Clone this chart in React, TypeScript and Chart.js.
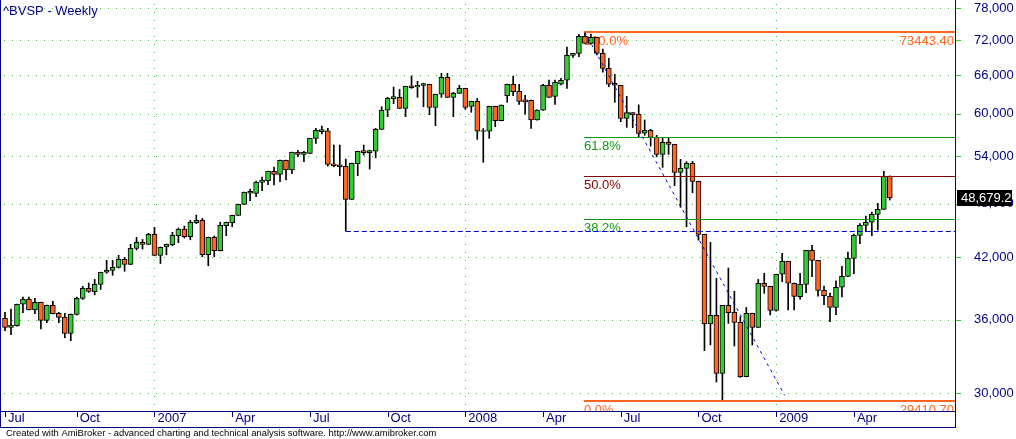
import React, { useEffect, useRef } from 'react';
import { Chart, registerables } from 'chart.js';

Chart.register(...registerables);

// ---- weekly OHLC of ^BVSP (index 0 = first week of Jul 2006) ----
const OPEN = [36100,35310,35450,37390,37870,36880,37570,35930,37290,36560,
  36220,34790,36470,37940,38900,38570,39290,40480,40680,40980,
  41790,41290,42950,43600,43390,44480,42200,43100,43340,44330,
  45060,44210,45780,46060,42280,44150,42710,45440,45780,46630,
  47920,49250,49240,50610,50810,52010,51620,53450,52200,54520,
  54250,54380,56440,57400,57490,53000,52860,52660,48500,53000,
  54750,54480,54660,57710,60520,62280,62490,60800,64320,64110,
  64350,64550,60960,62970,65670,62490,63120,63900,61110,61880,
  57420,57450,61110,58980,62750,64550,63440,62090,62040,59080,
  60520,64390,62650,64550,65200,69360,69710,72710,71460,72530,
  69710,67150,64720,64390,59310,60160,59960,57160,57590,56590,
  54250,55890,55610,51880,52390,53060,50730,44480,35600,36380,
  31500,37290,36650,35750,31240,36560,35310,39390,39090,36830,
  40280,41600,39390,38100,39290,42750,41700,38710,38130,37100,
  39000,40070,41900,44370,45480,45830,46740,47320,51400];
const HIGH = [36650,36950,37410,38060,38060,37940,37600,37320,37670,36650,
  36560,36500,38060,39090,39420,39770,40500,41700,41700,42220,
  42010,43390,44150,43920,44590,45260,43100,43420,44700,45180,
  45400,46060,46660,46280,44170,44290,45830,45860,46650,47940,
  49400,49760,50770,51270,52030,52560,53470,53470,54540,54790,
  54660,56460,57860,58200,57860,55510,55510,53610,53080,54680,
  55510,54830,57860,61050,62490,64110,63740,64250,65890,65030,
  64710,64570,62990,66330,66330,63290,64390,63920,61900,62330,
  57830,61130,61130,61330,64570,65890,64550,62810,62060,60580,
  64550,65240,65240,65500,70800,69720,73080,73443.4,73130,72550,
  70440,68840,66170,64400,62650,60170,61330,59080,57710,56870,
  56440,56590,55630,53570,53270,53320,50750,44500,43600,39870,
  37300,40910,38610,36250,37100,36580,39770,40380,39110,40290,
  42430,41620,39400,40380,42760,43280,41710,39120,38450,39620,
  41080,42570,44520,45670,46540,47010,48040,52010,51420];
const LOW = [35020,34670,35420,36620,36860,36530,35180,35720,36500,35720,
  34410,34160,36400,37840,38510,38280,38800,40380,40180,40900,
  40580,41250,42780,42880,43350,42170,41370,42280,43230,43560,
  44070,43880,45670,42070,41140,42070,42680,44330,45320,46600,
  47900,48350,48830,49570,50300,50270,50680,50920,51700,53920,
  53270,54350,55750,57060,52690,52600,51440,44850,48470,51440,
  54150,52300,53790,57690,59560,61510,60780,59560,63900,62490,
  61050,59860,58240,62490,62470,59560,63100,60650,60220,56300,
  53190,56440,58090,58950,61730,62750,61420,59920,57860,59060,
  60500,62470,61420,64430,63900,69010,69120,71440,71330,69410,
  66500,64160,61730,58830,58010,57950,56560,56870,55380,53920,
  52520,54250,50180,47560,45320,49320,43850,33320,33790,30830,
  29410.7,35660,33710,31190,31220,33790,35290,38420,36410,36750,
  39550,36860,36860,37870,38480,40030,38160,37350,35810,36430,
  38090,40050,40340,43450,44770,44330,44960,47300,48430];
const CLOSE = [35310,35510,37390,37870,36880,37570,35930,37290,36530,36200,
  34790,36470,37940,38900,38610,39290,40480,40710,40980,41790,
  41290,42950,43600,43390,44480,42220,43070,43390,44370,45060,
  44210,45830,46050,42280,44150,42710,45480,45830,46630,47920,
  49370,49500,50650,50900,52010,51620,53450,52200,54520,54250,
  54520,56440,57590,57680,52920,52740,52600,48500,53050,54660,
  54480,54750,57710,60520,62330,62590,60800,64230,64000,64390,
  64670,60960,62970,65670,62490,63120,63900,60960,61880,57450,
  57560,61110,58980,61310,64550,63380,61880,61780,59080,60560,
  64390,62490,64870,65200,69360,69710,72710,71460,72530,69710,
  67150,64550,64400,59310,60160,59810,57130,57590,56590,54250,
  55890,55610,51880,52390,53060,50730,44480,35600,36380,31500,
  37290,36620,35750,31240,36560,35310,39390,39090,36830,40280,
  41600,39390,38130,39290,42750,41700,38710,38190,37100,39000,
  40070,41900,44370,45480,45830,46740,47320,51400,48679.2];

// ---- axis ticks ----
const TICK_INDEX = [0, 12, 25, 38, 51, 64, 77, 90, 103, 116, 129, 142];
const TICK_LABELS = ['Jul', 'Oct', '2007', 'Apr', 'Jul', 'Oct', '2008', 'Apr', 'Jul', 'Oct', '2009', 'Apr'];
const YEAR_INDEX = [25, 77, 129];
const PRICE_TICKS = [30000, 36000, 42000, 48000, 54000, 60000, 66000, 72000, 78000];

// ---- drawing tools (Fibonacci retracement, trend line, support) ----
const FIB_HIGH = 73443.4;
const FIB_LOW = 29410.7;
const FIB_START_INDEX = 97;
const FIB_LEVELS = [100, 61.8, 50, 38.2, 0];
const SUPPORT_INDEX = 57;
const TREND_FROM = { index: 97, value: 73443.4 };
const TREND_TO = { index: 130.4, value: 29830 };

// ---- axis ranges ----
const X_MIN = -0.84;
const X_MAX = 158.91;
const Y_MIN = 28689;
const Y_MAX = 79569;

const FONT = '"Liberation Sans", Arial, sans-serif';
const NAVY = '#000080';
const UP = '#33cc33';
const DOWN = '#ff6622';
const GRID = '#33cc33';
const FIB_COLORS: Record<number, string> = { 100: '#ff6622', 61.8: '#119911', 50: '#800000', 38.2: '#119911', 0: '#ff6622' };

const decor = {
  id: 'amiDecor',
  beforeDatasetsDraw(chart: any) {
    const { ctx, chartArea: ca, scales } = chart;
    const x = scales.x, y = scales.y;
    ctx.save();
    ctx.fillStyle = GRID;
    for (const v of PRICE_TICKS) {
      const py = Math.round(y.getPixelForValue(v));
      for (let px = 4; px < ca.right; px += 8) ctx.fillRect(px, py, 1, 1);
    }
    for (const idx of YEAR_INDEX) {
      const px = Math.round(x.getPixelForValue(idx));
      for (let py = 4; py < ca.bottom; py += 8) ctx.fillRect(px, py, 1, 1);
    }
    ctx.beginPath();
    ctx.rect(ca.left, ca.top, ca.right - ca.left, ca.bottom - ca.top);
    ctx.clip();
    ctx.font = '13px ' + FONT;
    ctx.textBaseline = 'alphabetic';
    const x0 = x.getPixelForValue(FIB_START_INDEX) - 1;
    for (const lvl of FIB_LEVELS) {
      const val = FIB_LOW + (FIB_HIGH - FIB_LOW) * lvl / 100;
      const py = Math.round(y.getPixelForValue(val));
      ctx.fillStyle = FIB_COLORS[lvl];
      ctx.textAlign = 'left';
      ctx.fillText(lvl.toFixed(1) + '%', x0, py + 13);
      if (lvl === 0 || lvl === 100) {
        ctx.textAlign = 'right';
        ctx.fillText(val.toFixed(2), ca.right - 1, py + 13);
      }
    }
    ctx.restore();
  },
  afterDatasetsDraw(chart: any) {
    const { ctx, chartArea: ca, scales } = chart;
    const x = scales.x, y = scales.y;
    ctx.save();
    ctx.beginPath();
    ctx.rect(ca.left, ca.top, ca.right - ca.left, ca.bottom - ca.top);
    ctx.clip();
    const x0 = x.getPixelForValue(FIB_START_INDEX) - 1;
    for (const lvl of FIB_LEVELS) {
      const val = FIB_LOW + (FIB_HIGH - FIB_LOW) * lvl / 100;
      const py = Math.round(y.getPixelForValue(val));
      ctx.fillStyle = FIB_COLORS[lvl];
      if (lvl === 0 || lvl === 100) ctx.fillRect(x0, py - 1, ca.right - x0, 2);
      else ctx.fillRect(x0, py, ca.right - x0, 1);
    }
    // support line from the low of the Aug 2007 week
    ctx.strokeStyle = '#0000dd';
    ctx.lineWidth = 1;
    ctx.setLineDash([5, 3]);
    const sy = Math.round(y.getPixelForValue(LOW[SUPPORT_INDEX])) + 0.5;
    ctx.beginPath();
    ctx.moveTo(x.getPixelForValue(SUPPORT_INDEX), sy);
    ctx.lineTo(ca.right, sy);
    ctx.stroke();
    // trend line
    ctx.setLineDash([3, 4]);
    ctx.beginPath();
    ctx.moveTo(x.getPixelForValue(TREND_FROM.index), y.getPixelForValue(TREND_FROM.value));
    ctx.lineTo(x.getPixelForValue(TREND_TO.index), y.getPixelForValue(TREND_TO.value));
    ctx.stroke();
    ctx.restore();
  },
  afterDraw(chart: any) {
    const { ctx, chartArea: ca, scales } = chart;
    const x = scales.x, y = scales.y;
    ctx.save();
    // frame
    ctx.fillStyle = NAVY;
    ctx.fillRect(0, 0, 1, ca.bottom + 17);
    ctx.fillRect(ca.right, 0, 1, ca.bottom + 17);
    ctx.fillRect(0, ca.bottom, ca.right + 1, 1);
    ctx.fillRect(0, ca.bottom + 16, ca.right + 1, 1);
    // x tick marks
    for (const idx of TICK_INDEX) {
      const px = Math.round(x.getPixelForValue(idx));
      ctx.fillRect(px, ca.bottom + 1, 1, 5);
    }
    // y tick marks
    ctx.fillStyle = GRID;
    for (const v of PRICE_TICKS) {
      const py = Math.round(y.getPixelForValue(v));
      ctx.fillRect(ca.right + 1, py, 5, 1);
    }
    // title
    ctx.font = '13px ' + FONT;
    ctx.fillStyle = NAVY;
    ctx.textAlign = 'left';
    ctx.textBaseline = 'alphabetic';
    ctx.fillText('^BVSP - Weekly', 3, 15);
    // last price box
    const last = CLOSE[CLOSE.length - 1];
    const ly = Math.round(y.getPixelForValue(last));
    ctx.fillStyle = '#000000';
    ctx.fillRect(ca.right + 2, ly - 8, 55, 16);
    ctx.fillStyle = '#ffffff';
    ctx.textBaseline = 'middle';
    ctx.fillText(last.toLocaleString('en-US', { minimumFractionDigits: 1, maximumFractionDigits: 1 }), ca.right + 6, ly + 0.5);
    // footer
    const footer = 'Created with AmiBroker - advanced charting and technical analysis software. http://www.amibroker.com';
    ctx.font = '11px ' + FONT;
    const w = ctx.measureText(footer).width;
    const size = Math.min(12, 11 * 431 / w);
    ctx.font = size.toFixed(2) + 'px ' + FONT;
    ctx.fillStyle = '#000000';
    ctx.textBaseline = 'alphabetic';
    ctx.fillText(footer, 6, 436);
    ctx.restore();
  },
};

export default function App() {
  const ref = useRef<HTMLCanvasElement | null>(null);
  useEffect(() => {
    if (!ref.current) return;
    const idx = OPEN.map((_, i) => i);
    const chart = new Chart(ref.current, {
      type: 'bar',
      data: {
        datasets: [
          {
            label: 'body',
            data: idx.map((i) => ({ x: i, y: [OPEN[i], CLOSE[i]] })) as any,
            backgroundColor: idx.map((i) => (CLOSE[i] >= OPEN[i] ? UP : DOWN)),
            borderColor: '#000000',
            borderWidth: 1,
            borderSkipped: false,
            barThickness: 5,
            grouped: false,
            order: 0,
          } as any,
          {
            label: 'wick',
            data: idx.map((i) => ({ x: i, y: [LOW[i], HIGH[i]] })) as any,
            backgroundColor: '#000000',
            borderWidth: 0,
            barThickness: 1,
            grouped: false,
            order: 1,
          } as any,
        ],
      },
      options: {
        animation: false,
        responsive: false,
        devicePixelRatio: 1,
        layout: { padding: { left: 0, right: 0, top: 0, bottom: 12 } },
        plugins: { legend: { display: false }, tooltip: { enabled: false } },
        scales: {
          x: {
            type: 'linear',
            min: X_MIN,
            max: X_MAX,
            bounds: 'data',
            offset: false,
            grid: { display: false, drawTicks: false, tickLength: 0 },
            border: { display: false },
            ticks: {
              autoSkip: false,
              maxRotation: 0,
              minRotation: 0,
              align: 'start',
              padding: 1,
              labelOffset: 3,
              color: NAVY,
              font: { size: 13, family: FONT, lineHeight: 1 },
              callback: (v: any) => {
                const k = TICK_INDEX.indexOf(Number(v));
                return k >= 0 ? TICK_LABELS[k] : '';
              },
            },
            afterBuildTicks: (s: any) => {
              s.ticks = TICK_INDEX.map((v) => ({ value: v }));
            },
            afterFit: (s: any) => {
              s.height = 16;
              s.paddingLeft = 0;
              s.paddingRight = 0;
            },
          } as any,
          y: {
            type: 'logarithmic',
            position: 'right',
            min: Y_MIN,
            max: Y_MAX,
            bounds: 'data',
            grid: { display: false, drawTicks: false, tickLength: 0 },
            border: { display: false },
            ticks: {
              autoSkip: false,
              padding: 19,
              color: NAVY,
              font: { size: 13, family: FONT },
              callback: (v: any) => Number(v).toLocaleString('en-US'),
            },
            afterBuildTicks: (s: any) => {
              s.ticks = PRICE_TICKS.map((v) => ({ value: v }));
            },
            afterFit: (s: any) => {
              s.width = 61;
              s.paddingTop = 0;
              s.paddingBottom = 0;
            },
          } as any,
        },
      },
      plugins: [decor],
    });
    return () => chart.destroy();
  }, []);
  return (
    <div style={{ position: 'fixed', left: 0, top: 0, width: 1016, height: 439, background: '#ffffff' }}>
      <canvas ref={ref} width={1016} height={439} style={{ display: 'block' }} />
    </div>
  );
}
